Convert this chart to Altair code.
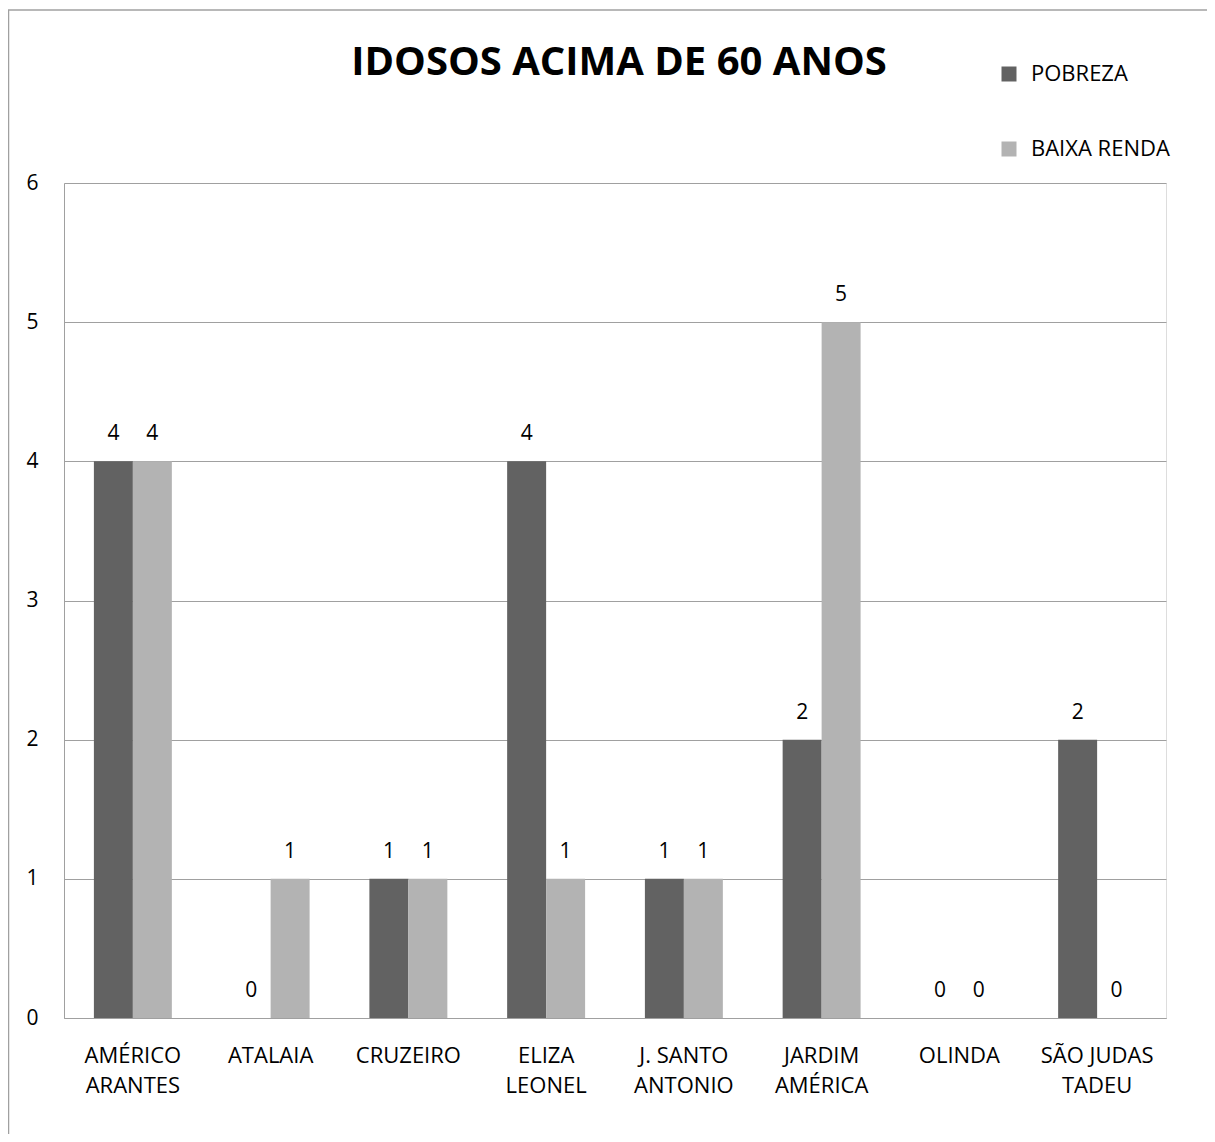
import altair as alt
import pandas as pd

categories = ["AMÉRICO ARANTES", "ATALAIA", "CRUZEIRO", "ELIZA LEONEL",
              "J. SANTO ANTONIO", "JARDIM AMÉRICA", "OLINDA", "SÃO JUDAS TADEU"]
label_lines = [["AMÉRICO", "ARANTES"], ["ATALAIA"], ["CRUZEIRO"], ["ELIZA", "LEONEL"],
               ["J. SANTO", "ANTONIO"], ["JARDIM", "AMÉRICA"], ["OLINDA"], ["SÃO JUDAS", "TADEU"]]
series = ["POBREZA", "BAIXA RENDA"]
pobreza = [4, 0, 1, 4, 1, 2, 0, 2]
baixa_renda = [4, 1, 1, 1, 1, 5, 0, 0]
y_ticks = [0, 1, 2, 3, 4, 5, 6]
title_text = "IDOSOS ACIMA DE 60 ANOS"
colors = ["#626262", "#b3b3b3"]

rows = []
for i, c in enumerate(categories):
    rows.append({"bairro": c, "serie": series[0], "valor": pobreza[i]})
    rows.append({"bairro": c, "serie": series[1], "valor": baixa_renda[i]})
df = pd.DataFrame(rows)

# label expression for multi-line x labels
parts = []
for c, lines in zip(categories, label_lines):
    arr = "[" + ",".join("'" + l + "'" for l in lines) + "]"
    parts.append(f"datum.value == '{c}' ? {arr}")
label_expr = " : ".join(parts) + " : datum.value"

FONT = "Open Sans"
GRID = "#a0a0a0"

x = alt.X("bairro:N", sort=categories, title=None,
          scale=alt.Scale(paddingInner=0.434, paddingOuter=0.217),
          axis=alt.Axis(labelAngle=0, labelExpr=label_expr, labelFontSize=22,
                        labelFont=FONT, labelColor="#000000", labelPadding=37,
                        labelLineHeight=30, ticks=False, domainColor=GRID,
                        labelBaseline="middle"))
xoff = alt.XOffset("serie:N", sort=series)
y = alt.Y("valor:Q", title=None,
          scale=alt.Scale(domain=[0, 6], nice=False),
          axis=alt.Axis(values=y_ticks, labelFontSize=21, labelOverlap=False,
                        labelFont=FONT, labelColor="#000000", labelPadding=26,
                        ticks=False, gridColor=GRID, domainColor=GRID,
                        format="d"))

base = alt.Chart(df)

bars = base.mark_bar().encode(
    x=x, xOffset=xoff, y=y,
    color=alt.Color("serie:N", sort=series,
                    scale=alt.Scale(domain=series, range=colors),
                    legend=alt.Legend(title=None, orient="none", legendX=934, legendY=-120,
                                      padding=0,
                                      symbolType="square", symbolSize=225,
                                      symbolStrokeWidth=0, labelFontSize=22,
                                      labelFont=FONT, labelColor="#000000",
                                      labelOffset=11, rowPadding=53,
                                      labelLimit=300)),
)

texts = base.mark_text(fontSize=21, font=FONT, color="#000000", baseline="middle",
                       dy=-27).encode(
    x=x, xOffset=xoff, y=alt.Y("valor:Q"), text=alt.Text("valor:Q", format="d"))

title_df = pd.DataFrame({"t": [title_text]})
title = alt.Chart(title_df).mark_text(fontSize=40, font=FONT, fontWeight="bold",
                                      color="#000000", baseline="alphabetic",
                                      align="center").encode(
    x=alt.value(555), y=alt.value(-108), text="t:N")

border_df = pd.DataFrame({"k": [0]})
border_left = alt.Chart(border_df).mark_rule(color=GRID, strokeWidth=1.5).encode(
    x=alt.value(-55.5), y=alt.value(-173), y2=alt.value(960))
border_top = alt.Chart(border_df).mark_rule(color=GRID, strokeWidth=1.5).encode(
    x=alt.value(-56), x2=alt.value(1143), y=alt.value(-173))

chart = alt.layer(bars, texts, title, border_left, border_top).properties(
    width=1102, height=835,
    padding={"left": 56, "top": 175, "right": 41, "bottom": 116},
    autosize=alt.AutoSizeParams(type="none"),
).configure_view(stroke=None).configure(font=FONT)

chart.save("out.html", embed_options={"renderer": "svg", "actions": False})
